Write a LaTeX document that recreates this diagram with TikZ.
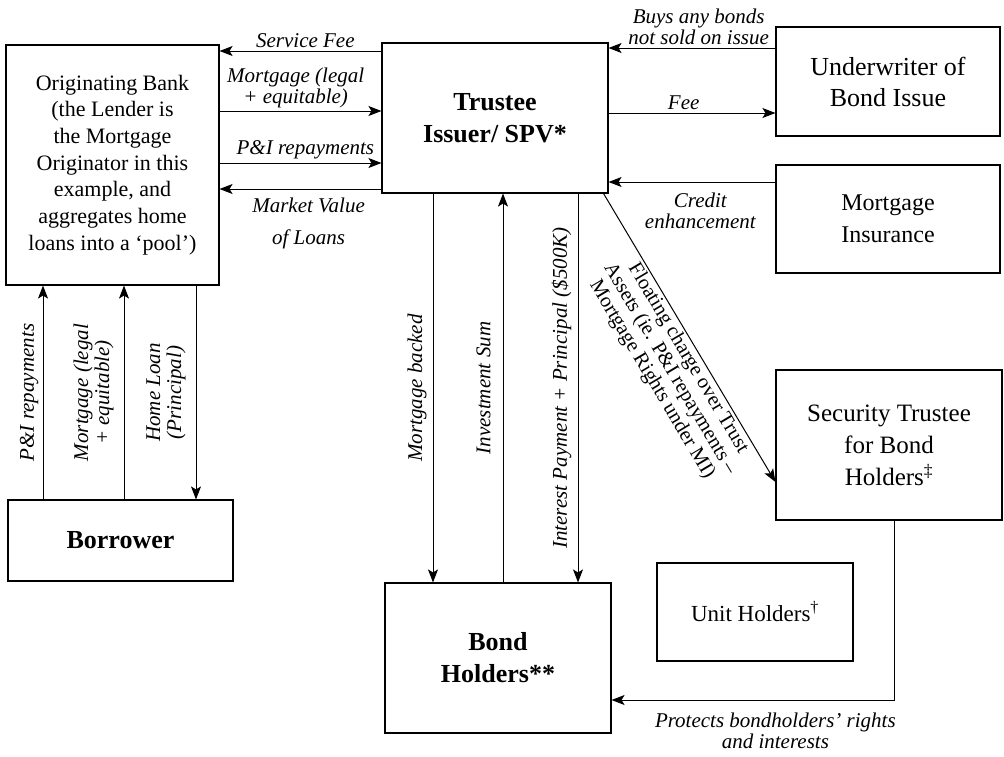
\documentclass[tikz,border=0pt]{standalone}
\usepackage{fontspec}
\setmainfont{Liberation Serif}
\usetikzlibrary{arrows.meta,positioning}
\tikzset{
  box/.style={draw, line width=1.1pt, inner sep=2pt, align=center,
              font=\fontsize{22}{26.7}\selectfont},
  bbox/.style={box, font=\bfseries\fontsize{26}{32}\selectfont},
  lbl/.style={font=\itshape\fontsize{21}{21}\selectfont, align=center, inner sep=3pt},
  vlbl/.style={lbl, rotate=90, anchor=south, inner sep=6pt},
  flow/.style={-{Stealth[length=13pt,width=10pt,inset=3pt]}, line width=1pt},
}
\begin{document}
\begin{tikzpicture}[x=1pt,y=1pt]
  \useasboundingbox (0,0) rectangle (1004,-756);
  % parties
  \node[box, minimum width=213pt, minimum height=240pt] (bank) at (112.5,-165)
    {Originating Bank\\(the Lender is\\the Mortgage\\Originator in this\\example, and\\aggregates home\\loans into a `pool')};
  \node[bbox, minimum width=226pt, minimum height=150pt] (trustee) at (495,-118) {Trustee\\Issuer/ SPV*};
  \node[box, font=\fontsize{26}{31}\selectfont, minimum width=224pt, minimum height=109pt]
    (underwriter) at (888,-81.5) {Underwriter of\\Bond Issue};
  \node[box, font=\fontsize{24}{32}\selectfont, minimum width=224pt, minimum height=108pt]
    (insurance) at (888,-219) {Mortgage\\Insurance};
  \node[box, font=\fontsize{25}{32}\selectfont, minimum width=226pt, minimum height=150pt]
    (sectrustee) at (889,-445) {Security Trustee\\for Bond\\Holders\textsuperscript{‡}};
  \node[box, font=\fontsize{23}{28}\selectfont, minimum width=196pt, minimum height=98pt]
    (unitholders) at (755,-612) {Unit Holders\textsuperscript{†}};
  \node[bbox, minimum width=226pt, minimum height=150pt] (bondholders) at (498,-658) {Bond\\Holders**};
  \node[bbox, minimum width=225pt, minimum height=81pt] (borrower) at (120.5,-540.5) {Borrower};
  % bank <-> trustee
  \draw[flow] (trustee.west |- 0,-51) -- node[lbl, above, pos=0.47] (lsf) {Service Fee} (bank.east |- 0,-51);
  \draw[flow] (bank.east |- 0,-111) -- node[lbl, above, pos=0.47] (lmort) {Mortgage (legal\\+ equitable)} (trustee.west |- 0,-111);
  \draw[flow] (bank.east |- 0,-163) -- node[lbl, above, pos=0.53] (lpi) {P\&I repayments} (trustee.west |- 0,-163);
  \draw[flow] (trustee.west |- 0,-189) -- node[lbl, below, pos=0.45, inner sep=8pt] (lmv) {Market Value\\[11pt]of Loans} (bank.east |- 0,-189);
  % trustee <-> underwriter, insurance
  \draw[flow] (underwriter.west |- 0,-48) -- node[lbl, above, pos=0.46] (lbuy) {Buys any bonds\\not sold on issue} (trustee.east |- 0,-48);
  \draw[flow] (trustee.east |- 0,-113) -- node[lbl, above, pos=0.45] (lfee) {Fee} (underwriter.west |- 0,-113);
  \draw[flow] (insurance.west |- 0,-182) -- node[lbl, below, pos=0.45, inner sep=10pt] (lcred) {Credit\\enhancement} (trustee.east |- 0,-182);
  % borrower <-> bank
  \draw[flow] (borrower.north -| 43,0) -- node[vlbl, inner sep=4pt] (lrep) {P\&I repayments} (bank.south -| 43,0);
  \draw[flow] (borrower.north -| 124,0) -- node[vlbl, inner sep=10pt] (lmort2) {Mortgage (legal\\+ equitable)} (bank.south -| 124,0);
  \draw[flow] (bank.south -| 196,0) -- node[vlbl, inner sep=10pt] (lloan) {Home Loan\\(Principal)} (borrower.north -| 196,0);
  % trustee <-> bond holders
  \draw[flow] (trustee.south -| 433,0) -- node[vlbl] (lback) {Mortgage backed} (bondholders.north -| 433,0);
  \draw[flow] (bondholders.north -| 503,0) -- node[vlbl, inner sep=12pt] (linv) {Investment Sum} (trustee.south -| 503,0);
  \draw[flow] (trustee.south -| 578,0) -- node[vlbl] (lint) {Interest Payment + Principal (\$500K)} (bondholders.north -| 578,0);
  % security trustee
  \draw[flow] ([xshift=-5pt]trustee.south east) -- node[pos=0.55, sloped, below, align=center, inner sep=2pt,
      font=\fontsize{20.5}{21}\selectfont] (lfloat)
    {Floating charge over Trust\\Assets (ie. P\&I repayments --\\Mortgage Rights under MI)} (sectrustee.west |- 0,-482);
  \draw[flow] ([xshift=5pt]sectrustee.south) |- node[lbl, below, pos=0.71, inner sep=12pt] (lprot)
    {Protects bondholders' rights\\and interests} (bondholders.east |- 0,-700);
\end{tikzpicture}
\end{document}
